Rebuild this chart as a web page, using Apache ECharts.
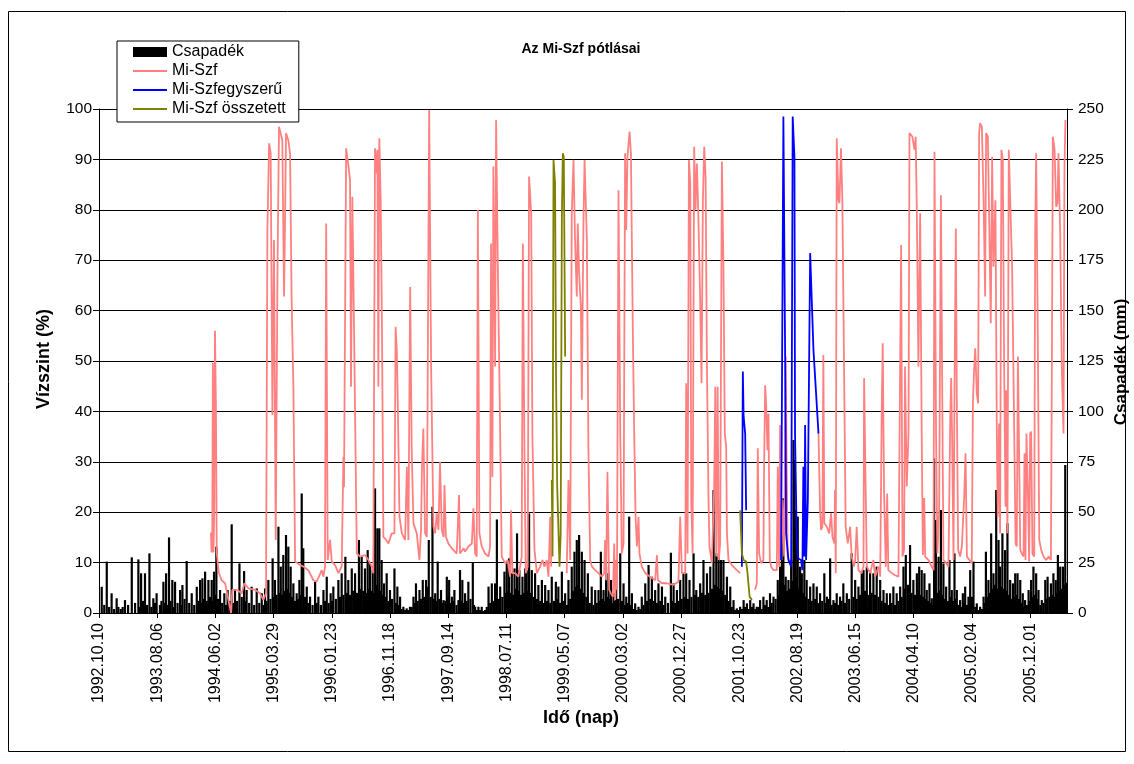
<!DOCTYPE html>
<html>
<head>
<meta charset="utf-8">
<script src="https://cdn.jsdelivr.net/npm/echarts@6/dist/echarts.min.js"></script>
<style>
  html, body { margin: 0; padding: 0; background: #fff; }
  #chart { width: 1134px; height: 764px; }
</style>
</head>
<body>
<div id="chart"></div>
<script>
// Day index 0 = 1992.10.10; one label every 300 days.
const tickLabels = ['1992.10.10','1993.08.06','1994.06.02','1995.03.29','1996.01.23','1996.11.18',
  '1997.09.14','1998.07.11','1999.05.07','2000.03.02','2000.12.27','2001.10.23','2002.08.19',
  '2003.06.15','2004.04.10','2005.02.04','2005.12.01'];
const lastDay = 4990;

// Csapadék (mm), larger daily totals: [day, mm]
const csapadek = [
 [14,13],[40,25.5],[65,9.8],[91,7.3],[134,6.4],[169,27.6],[203,26.6],[217,19.7],[237,19.7],[260,29.6],[280,7.3],[297,9.8],
 [332,15.5],[346,19.7],[361,37.5],[378,16.4],[392,15.5],[418,11.4],[430,13.9],[452,25.8],[478,9.8],[504,13],[521,16.4],
 [533,17.2],[547,20.5],[564,16.4],[581,16.4],[593,20.5],[605,32.9],[624,11.4],[646,9.8],[663,11.4],[684,44],[701,11.4],
 [724,24.6],[748,20.8],[761,11.4],[787,13],[813,12.2],[839,9.8],
 [856,12.2],[873,16.4],[895,27.1],[907,16.4],[925,42.8],[937,23],[950,28.8],[964,38.7],[976,32.9],[988,23],[1002,14.7],
 [1019,9.8],[1033,16.4],[1045,59.3],[1053,32.1],[1071,13.1],[1088,8.1],[1114,15.5],[1131,8.1],[1157,11.4],[1174,18],
 [1194,9.8],[1208,13.1],[1234,16.4],[1251,19.7],[1270,27.9],[1285,16.4],[1303,22.1],[1320,19.7],[1340,36.2],[1354,27.9],
 [1371,22.1],[1385,31.2],[1397,24.6],[1411,21.3],[1423,61.8],[1435,42],[1445,42],[1457,26.3],[1469,14.7],[1483,19.7],
 [1500,11.4],[1523,22.1],[1538,13.1],[1552,8.1],[1569,3.1],[1586,2.3],[1603,3.1],[1621,8.1],[1634,14.7],[1652,11.4],
 [1669,16.4],[1686,16.4],
 [1690,13.1],[1700,36.2],[1719,52.7],[1733,9.8],[1746,25.5],[1763,11.4],[1776,6.4],[1793,18],[1805,16.4],[1819,8.1],
 [1832,11.4],[1853,6.4],[1861,21.3],[1873,16.4],[1887,9.8],[1904,15.5],[1927,25],[1939,3.1],[1956,3.1],[1973,3.1],
 [1990,1.5],[2008,13.1],[2025,14.7],[2042,14.7],[2051,46.4],[2068,13.1],[2090,20.5],[2102,24.6],[2114,27.1],[2128,19.7],
 [2142,22.1],[2155,39.5],[2167,21.3],[2183,18],[2197,22.1],[2205,21.3],[2217,49.4],[2231,21.3],[2248,19.7],[2265,13.9],
 [2283,16.4],[2300,13.9],[2317,11.4],[2334,18],[2355,15.5],[2368,13.1],[2386,20.5],[2403,9.8],[2420,16.4],[2437,23],
 [2451,30.4],[2463,36.2],[2475,38.7],[2489,30.4],[2503,26.3],[2520,19.7],[2540,13.1],
 [2558,11.4],[2575,11.4],[2587,30.4],[2601,11.4],[2614,23],[2627,19.7],[2639,16.4],[2652,9.8],[2666,26.3],[2687,29.6],
 [2704,14.7],[2718,8.1],[2733,47.8],[2747,9.8],[2764,4.8],[2781,3.1],[2798,8.1],[2816,14.7],[2833,23.8],[2850,18],
 [2867,11.4],[2884,14.7],[2902,13.1],[2919,8.1],[2948,29.9],[2962,14.7],[2979,11.4],[2996,16.4],[3013,19.7],[3027,19.7],
 [3044,16.4],[3065,29.6],[3079,11.4],[3099,14.7],[3116,26.3],[3134,19.7],[3151,23],[3168,61],[3182,29.6],[3194,27.9],
 [3206,26.3],[3219,26.3],[3237,18],[3254,13.1],[3271,6.4],[3288,2.3],[3305,3.1],[3323,6.4],[3340,4.8],[3357,6.4],[3374,4.8],
 [3391,3.1],[3408,6.4],[3425,8.1],[3442,6.4],[3459,9.8],[3477,8.1],[3499,16.4],[3511,23],[3520,26.3],[3528,56.9],[3540,18],
 [3554,16.4],[3568,26.3],[3580,85.8],[3585,75.9],[3592,51.1],[3602,47.8],[3614,23],[3623,19.7],[3636,26.3],[3648,16.4],
 [3666,13.1],[3683,14.7],[3700,13.1],[3717,9.8],[3739,19.7],[3752,8.1],[3769,27.1],[3786,6.4],[3803,9.8],[3820,8.1],
 [3837,14.7],[3855,9.8],[3880,29.6],[3898,16.4],[3915,13.1],[3932,19.7],[3941,21.3],[3958,23],[3975,21.3],[3992,19.7],
 [4009,23],[4027,16.4],[4044,11.4],[4061,9.8],[4078,9.8],[4095,13.1],[4112,9.8],[4130,13.1],[4147,23],[4159,28.8],
 [4181,33.7],[4198,16.4],[4216,19.7],[4228,23],[4241,21.3],[4255,19.7],
 [4267,11.4],[4281,14.7],[4293,7.3],[4305,76.7],[4314,46.1],[4328,27.9],[4340,51.1],[4353,24.6],[4367,13.1],[4384,26.3],
 [4396,11.4],[4410,29.6],[4422,11.4],[4439,6.4],[4453,9.8],[4465,13.1],[4482,8.1],[4491,21.3],[4508,25.5],[4525,4.8],
 [4542,3.1],[4560,8.1],[4572,30.4],[4585,16.4],[4599,39.5],[4611,19.7],[4625,61],[4637,36.2],[4645,23],[4657,39.5],
 [4671,31.2],[4683,44.5],[4697,16.4],[4711,14.7],[4723,19.7],[4735,19.7],[4749,16.4],[4762,9.8],[4774,6.4],[4792,11.4],
 [4805,16.4],[4817,23],[4831,19.7],[4843,11.4],[4860,6.4],[4878,16.4],[4890,18],[4907,14.7],[4920,19.7],[4932,16.4],
 [4943,28.8],[4955,23],[4969,23],[4981,73.4]
];

// Csapadék (mm), small daily totals between the larger ones: [day, mm]
const csapadekKicsi = [
 [27,4],[52,3],[78,2],[100,3],[112,2],[122,3],[150,4],[186,5],[210,3],[227,6],[248,4],[270,3],[288,5],[314,4],[322,6],
 [339,5],[353,4],[369,6],[385,3],[405,5],[424,4],[441,7],[465,5],[491,4],[512,6],[527,5],[540,7],[556,6],[572,8],[587,6],
 [599,9],[614,7],[635,5],[654,4],[673,6],[692,5],[712,6],[736,8],[754,6],[774,5],[800,4],[826,5],
 [848,4],[864,6],[884,7],[901,8],[916,9],[931,10],[944,9],[957,11],[970,12],[982,10],[995,8],[1010,6],[1026,7],[1039,9],
 [1062,8],[1080,5],[1101,4],[1122,5],[1144,4],[1165,6],[1184,5],[1201,6],[1221,7],[1242,8],[1260,9],[1278,10],[1294,9],
 [1311,11],[1330,10],[1347,12],[1362,11],[1378,10],[1391,12],[1404,11],[1417,10],[1429,14],[1440,12],[1451,11],[1463,9],
 [1476,8],[1491,6],[1511,7],[1530,5],[1545,4],[1560,2],[1577,1.5],[1594,1.5],[1612,3],[1627,5],[1643,6],[1660,7],[1677,8],
 [1695,9],[1710,8],[1726,7],[1740,6],[1755,7],[1770,5],[1785,6],[1799,8],[1812,5],[1826,6],[1843,4],[1867,6],[1880,5],
 [1896,6],[1915,7],[1933,4],[1948,1.5],[1965,1.5],[1982,1],[1999,3],[2017,5],[2034,6],[2060,7],[2079,8],[2096,10],[2108,11],
 [2121,10],[2135,9],[2149,12],[2161,11],[2175,9],[2190,10],[2211,11],[2224,10],[2240,8],[2257,7],[2274,6],[2292,5],[2309,6],
 [2326,5],[2345,6],[2362,7],[2377,5],[2395,6],[2412,4],[2429,7],[2444,11],[2457,13],[2469,14],[2482,12],[2496,10],[2512,8],
 [2530,5],[2549,4],[2566,5],[2581,6],[2594,7],[2608,6],[2620,8],[2633,7],[2646,5],[2659,6],[2676,7],[2696,6],[2711,4],
 [2725,5],[2740,4],[2756,2],[2772,1.5],[2790,2],[2807,4],[2825,6],[2842,7],[2858,6],[2876,5],[2893,6],[2910,4],[2933,5],
 [2955,6],[2970,5],[2988,6],[3004,7],[3020,8],[3036,7],[3054,8],[3072,9],[3089,8],[3108,10],[3125,9],[3142,10],[3160,12],
 [3175,14],[3188,13],[3200,12],[3213,11],[3228,9],[3246,6],[3262,3],[3280,1.5],[3296,1.5],[3314,2],[3331,3],[3348,2],
 [3366,3],[3383,2],[3400,3],[3416,2],[3433,4],[3450,3],[3468,5],[3488,7],[3505,9],[3515,10],[3524,12],[3534,14],[3547,11],
 [3561,12],[3574,16],[3597,18],[3608,12],[3618,9],[3630,10],[3642,8],[3657,7],[3674,6],[3692,7],[3708,5],[3728,6],[3745,5],
 [3760,7],[3777,4],[3794,5],[3811,4],[3828,6],[3846,5],[3867,7],[3889,8],[3906,7],[3923,9],[3936,10],[3949,11],[3966,9],
 [3983,10],[4000,9],[4018,8],[4035,6],[4052,5],[4069,4],[4086,5],[4103,4],[4121,6],[4138,8],[4153,12],[4170,14],[4189,10],
 [4207,9],[4222,11],[4234,9],[4248,8],[4261,7],[4274,6],[4287,5],[4299,4],[4310,9],[4321,10],[4334,11],[4347,9],[4360,7],
 [4376,6],[4390,8],[4403,6],[4416,7],[4431,4],[4446,3],[4459,5],[4474,4],[4487,6],[4500,8],[4517,3],[4534,1.5],[4551,2],
 [4566,5],[4579,8],[4592,10],[4605,12],[4618,14],[4631,12],[4651,13],[4664,12],[4677,11],[4690,9],[4704,7],[4717,8],
 [4729,9],[4742,7],[4756,5],[4768,3],[4783,4],[4799,6],[4811,8],[4824,9],[4837,7],[4852,4],[4869,5],[4884,7],[4899,8],
 [4914,9],[4926,8],[4938,10],[4949,11],[4962,12],[4975,14],[4986,15]
];

// Mi-Szf vízszint (%), [day, %]; '-' marks a gap
const miSzf = [
 [577,16],[580,12],[584,15],[587,49.6],[590,12],[594,20],[598,56],[603,40],[607,12],[612,9.9],[618,8],[632,6.5],
 [650,5.9],[667,2.6],[681,0],[687,4.6],[710,4.6],[736,3.9],[749,5.9],[770,4.9],[804,4.6],[830,3.9],[847,2.6],[861,3.9],
 [868,76],[877,93.2],[885,91.2],[894,39.3],[902,74],[911,14.5],[920,67.4],[928,96.5],[937,96.8],[945,93.8],[954,62.8],
 [959,78],[964,95.2],[976,93.8],[985,91.2],[993,62.1],[1002,44.9],[1011,10.2],[1037,9.5],[1054,9.2],[1079,8.5],[1105,6.5],
 [1122,6.2],[1148,8.5],[1157,7.2],[1165,9.2],[1171,77.3],[1179,10.5],[1191,14.5],[1200,10.2],[1217,9.5],[1234,7.9],
 [1251,9.2],[1260,31],[1263,25],[1274,92.2],[1286,88.6],[1294,85.9],[1299,44.9],[1306,82.6],[1315,55.5],[1329,11.8],
 [1346,11.2],[1371,11.5],[1389,10.5],[1406,9.2],[1414,7.9],[1423,92.2],[1432,87.2],[1435,91.9],[1440,44.9],[1445,94.2],
 [1452,81.9],[1459,55.5],[1466,15.1],[1480,14.5],[1492,13.8],[1509,15.8],[1523,15.8],[1529,56.8],[1535,52.2],[1540,42.3],
 [1549,19.1],[1561,15.8],[1578,14.5],[1587,29],[1595,14.5],[1604,64.7],[1612,32.3],[1621,17.8],[1638,15.8],[1652,10.5],
 [1660,16.5],[1665,29],[1672,36.6],[1681,15.8],[1690,15.1],[1698,15.1],[1702,99.8],
 [1712,48.9],[1724,17.1],[1733,15.8],[1741,19.8],[1750,16.5],[1758,30],[1767,16.5],[1776,15.1],[1781,25.4],[1788,15.1],
 [1801,13.8],[1819,12.8],[1844,11.8],[1856,23.4],[1861,11.8],[1879,12.8],[1887,12.2],[1904,13.2],[1922,13.8],[1930,20.8],
 [1939,11.8],[1947,11.2],[1953,80],[1961,15.8],[1973,13.2],[1990,11.8],[2008,11.2],[2016,13.2],[2021,73.3],[2028,27],
 [2033,88.6],[2042,48.9],[2047,97.8],[2056,68.7],[2068,35.6],[2076,11.2],[2093,9.9],[2107,10.5],[2119,7.2],[2124,20.4],
 [2131,7.9],[2145,7.9],[2162,7.2],[2179,11.2],[2185,73.3],[2193,33],[2200,7.9],[2210,9.2],[2217,86.6],[2228,79.3],
 [2234,35.6],[2245,12.5],[2257,7.9],[2274,9.2],[2286,10.5],[2296,9.2],[2308,10.5],[2317,7.2],[2326,19.1],[2331,9.2],
 [2334,'-'],
 [2411,7.9],[2420,26.4],[2429,10.5],[2437,79.3],[2446,89.9],[2454,74],[2463,62.8],[2468,77.3],[2475,67.4],[2484,60.8],
 [2489,42.3],[2497,76.7],[2503,89.9],[2515,74],[2523,32.3],[2532,10.5],[2541,9.2],[2558,8.5],[2575,7.9],[2592,7.2],
 [2604,7.9],[2609,14.5],[2614,6.5],[2621,28],[2630,4.6],[2639,3.9],[2649,3.2],[2656,13.8],[2661,2.6],[2666,10.5],
 [2670,4.6],[2678,83.9],[2687,35.6],[2695,11.8],[2704,13.8],[2712,91.2],[2718,76],[2724,90.5],[2735,95.5],[2742,91.2],
 [2752,55.5],[2759,35.6],[2766,19.1],[2773,13.2],[2781,19.1],[2786,11.8],[2798,9.2],[2816,7.9],[2841,7.2],[2867,6.5],
 [2876,11.5],[2881,6.5],[2902,5.9],[2927,5.9],[2962,5.6],[2987,6.2],[2996,19.1],[3005,7.9],[3022,7.9],[3027,45.6],
 [3034,11.8],[3041,89.9],[3048,85.3],[3053,22.4],[3060,11.8],[3068,92.5],[3075,80],[3082,89.2],[3089,80],[3099,62.1],
 [3106,45.6],[3113,81.9],[3120,92.5],[3127,86.6],[3134,48.9],[3142,22.4],[3147,13.2],[3159,9.9],[3171,24.4],[3177,44.9],
 [3182,11.2],[3189,44.9],[3195,10.5],[3202,13.8],[3211,89.6],[3219,68.7],[3226,35.6],[3233,33],[3237,15.8],[3245,10.5],
 [3262,9.5],[3288,8.5],[3305,7.9],
 [3309,'-'],
 [3382,4.6],[3391,5.9],[3396,32.7],[3403,11.8],[3413,9.9],[3425,10.5],[3428,27],[3434,45.2],[3439,41.6],[3446,32.3],
 [3451,39.6],[3458,10.5],[3465,9.2],[3477,8.5],[3494,8.5],[3499,29],[3506,9.2],[3511,37.3],[3516,10.5],[3523,22.4],
 [3532,11.2],[3540,50.9],[3545,29],[3550,11.2],[3562,9.9],
 [3565,'-'],
 [3709,35.6],[3717,20.4],[3722,16.5],[3729,17.1],[3734,51.2],[3739,17.8],[3752,17.1],[3764,15.8],[3774,19.8],[3781,15.1],
 [3791,13.8],[3794,24.4],[3798,7.9],[3803,94.2],[3812,81.9],[3817,81.3],[3825,92.2],[3832,81.9],[3839,55.5],[3849,17.1],
 [3860,13.8],[3872,17.1],[3880,11.2],[3892,9.2],[3898,10.5],[3906,17.1],[3915,8.5],[3929,7.9],[3941,9.2],[3944,46.6],
 [3951,27.7],[3958,9.2],[3975,7.9],[3992,10.5],[4001,7.2],[4018,9.2],[4027,7.2],[4035,40.3],[4040,53.5],[4047,23.7],
 [4056,9.2],[4063,23.7],[4069,8.5],[4087,7.9],[4104,7.5],[4121,7.2],[4131,6.9],[4135,73],[4142,11.2],[4150,12.5],
 [4155,48.9],[4164,25.1],[4173,35.6],[4178,95.2],[4186,95.5],[4193,94.5],[4204,91.9],[4210,94.5],[4216,79.3],[4224,48.9],
 [4233,79.3],[4241,35.6],[4247,11.5],[4254,22.8],[4259,11.2],[4276,10.5],[4293,9.2],[4302,8.5],[4307,91.5],[4315,35.6],
 [4322,11.8],[4331,20.4],[4340,82.9],[4346,48.9],[4353,10.5],[4367,9.9],[4379,9.2],[4388,38.3],[4393,46.6],[4398,34.3],
 [4405,10.5],[4410,44.2],[4417,76.3],[4422,42.3],[4429,12.5],[4439,11.2],[4448,13.2],[4460,23.1],[4467,31.7],[4474,11.2],
 [4487,10.5],[4499,9.9],[4505,41.9],[4511,48.2],[4517,52.5],[4525,43.6],[4532,41.6],[4537,95.2],[4542,97.2],[4551,96.5],
 [4560,81.9],[4568,62.8],[4573,95.2],[4582,94.5],[4590,75.3],[4597,57.5],[4604,90.5],[4611,68.7],[4621,81.9],[4628,37],
 [4633,19.1],[4640,37.6],[4645,15.8],[4652,91.9],[4659,89.9],[4666,48.9],[4673,21.1],[4676,44.2],[4683,15.8],[4690,91.9],
 [4697,91.9],[4702,75.3],[4707,68.7],[4718,35.6],[4725,13.8],[4731,13.2],[4737,50.9],[4743,32.3],[4749,12.5],[4757,11.8],
 [4766,11.2],[4771,31.7],[4776,10.5],[4781,35.6],[4788,25.1],[4795,10.2],[4800,35.6],[4805,36],[4812,11.8],[4821,11.2],
 [4826,75.3],[4831,91.2],[4838,62.1],[4847,14.5],[4857,12.5],[4869,11.2],[4883,10.5],[4895,11.2],[4907,10.5],[4912,48.9],
 [4917,94.5],[4926,91.9],[4934,80.6],[4941,81.3],[4946,91.2],[4955,75.3],[4963,48.9],[4972,35.6],[4977,88.6],[4982,97.8]
];

// Mi-Szfegyszerű (%)
const miSzfEgyszeru = [
 [3314,9.2],[3319,47.9],[3323,39],[3326,39],[3331,35.6],[3336,20.4],
 [3340,'-'],
 [3516,10.5],[3528,98.5],[3537,50.9],[3542,15.8],[3554,10.5],[3568,9.2],[3576,98.5],[3585,90.5],[3588,35.6],[3597,14.5],
 [3605,10.8],[3619,10.5],[3626,8.5],[3631,29],[3636,11.2],[3640,37.3],[3645,10.5],[3654,22.4],[3666,71.4],[3683,52.2],
 [3709,35.6]
];

// Mi-Szf összetett (%)
const miSzfOsszetett = [
 [2334,26.4],[2338,11.2],[2343,89.9],[2351,85.3],[2356,46.9],[2362,25.1],[2368,25.1],[2374,9.2],[2380,15.8],[2386,78.6],
 [2391,91.2],[2396,90.5],[2403,50.9],
 [2406,'-'],
 [3305,20.4],[3314,11.8],[3323,10.5],[3336,10.2],[3343,7.9],[3354,3.2],[3366,2.6]
];

const FONT = "'Liberation Sans', Arial, sans-serif";
const precip = csapadek.concat(csapadekKicsi).sort((a, b) => a[0] - b[0]);
const chart = echarts.init(document.getElementById('chart'));

// legend entries for the lines: plain stroke, no marker
const lineKey = { itemStyle: { opacity: 0 } };

chart.setOption({
  backgroundColor: '#ffffff',
  animation: false,
  textStyle: { fontFamily: FONT, color: '#000' },
  legend: {
    orient: 'vertical',
    left: 117, top: 41,
    padding: [3, 13, 5, 15],
    itemGap: 3,
    itemWidth: 34, itemHeight: 10,
    borderColor: '#000', borderWidth: 1,
    backgroundColor: '#fff',
    textStyle: { fontFamily: FONT, fontSize: 16, color: '#000', lineHeight: 16 },
    data: [
      { name: 'Csapadék', icon: 'rect' },
      Object.assign({ name: 'Mi-Szf' }, lineKey),
      Object.assign({ name: 'Mi-Szfegyszerű' }, lineKey),
      Object.assign({ name: 'Mi-Szf összetett' }, lineKey)
    ]
  },
  grid: { left: 99, right: 67, top: 109, bottom: 151, containLabel: false },
  xAxis: {
    type: 'value', min: 0, max: lastDay, interval: 300,
    axisLine: { lineStyle: { color: '#000', width: 1 } },
    axisTick: { show: true, length: 5, lineStyle: { color: '#000' } },
    splitLine: { show: false },
    axisLabel: {
      rotate: 90, margin: 10, fontSize: 16, color: '#000', fontFamily: FONT,
      showMaxLabel: false,
      formatter: v => (v % 300 === 0 && tickLabels[v / 300]) ? tickLabels[v / 300] : ''
    }
  },
  yAxis: [
    {
      type: 'value', min: 0, max: 100, interval: 10,
      axisLine: { show: true, lineStyle: { color: '#000' } },
      axisTick: { show: true, length: 6, lineStyle: { color: '#000' } },
      splitLine: { show: true, lineStyle: { color: '#000', width: 1 } },
      axisLabel: { fontSize: 15.5, color: '#000', margin: 7, fontFamily: FONT }
    },
    {
      type: 'value', min: 0, max: 250, interval: 25, position: 'right',
      axisLine: { show: true, lineStyle: { color: '#000' } },
      axisTick: { show: true, length: 6, lineStyle: { color: '#000' } },
      splitLine: { show: false },
      axisLabel: { fontSize: 15.5, color: '#000', margin: 11, fontFamily: FONT }
    }
  ],
  graphic: [
    { type: 'rect', shape: { x: 8.5, y: 11.5, width: 1117, height: 740 },
      style: { fill: null, stroke: '#000', lineWidth: 1 }, z: -1, silent: true },
    { type: 'text', x: 581, y: 49, style: { text: 'Az Mi-Szf pótlásai', font: 'bold 14px ' + FONT,
      fill: '#000', textAlign: 'center', textVerticalAlign: 'middle' } },
    { type: 'text', x: 44, y: 359, rotation: Math.PI / 2, style: { text: 'Vízszint (%)', font: 'bold 18px ' + FONT,
      fill: '#000', textAlign: 'center', textVerticalAlign: 'middle' } },
    { type: 'text', x: 1121, y: 362, rotation: Math.PI / 2, style: { text: 'Csapadék (mm)', font: 'bold 17px ' + FONT,
      fill: '#000', textAlign: 'center', textVerticalAlign: 'middle' } },
    { type: 'text', x: 581, y: 718, style: { text: 'Idő (nap)', font: 'bold 18px ' + FONT,
      fill: '#000', textAlign: 'center', textVerticalAlign: 'middle' } }
  ],
  series: [
    {
      name: 'Csapadék', type: 'bar', yAxisIndex: 1, barWidth: 2.2,
      itemStyle: { color: '#000' }, data: precip
    },
    {
      name: 'Mi-Szf', type: 'line', yAxisIndex: 0, symbol: 'none', connectNulls: false,
      lineStyle: { color: '#FF8080', width: 1.8 }, itemStyle: { color: '#FF8080' }, data: miSzf
    },
    {
      name: 'Mi-Szfegyszerű', type: 'line', yAxisIndex: 0, symbol: 'none', connectNulls: false,
      lineStyle: { color: '#0000FF', width: 1.8 }, itemStyle: { color: '#0000FF' }, data: miSzfEgyszeru
    },
    {
      name: 'Mi-Szf összetett', type: 'line', yAxisIndex: 0, symbol: 'none', connectNulls: false,
      lineStyle: { color: '#808000', width: 1.8 }, itemStyle: { color: '#808000' }, data: miSzfOsszetett
    }
  ]
});
</script>
</body>
</html>
